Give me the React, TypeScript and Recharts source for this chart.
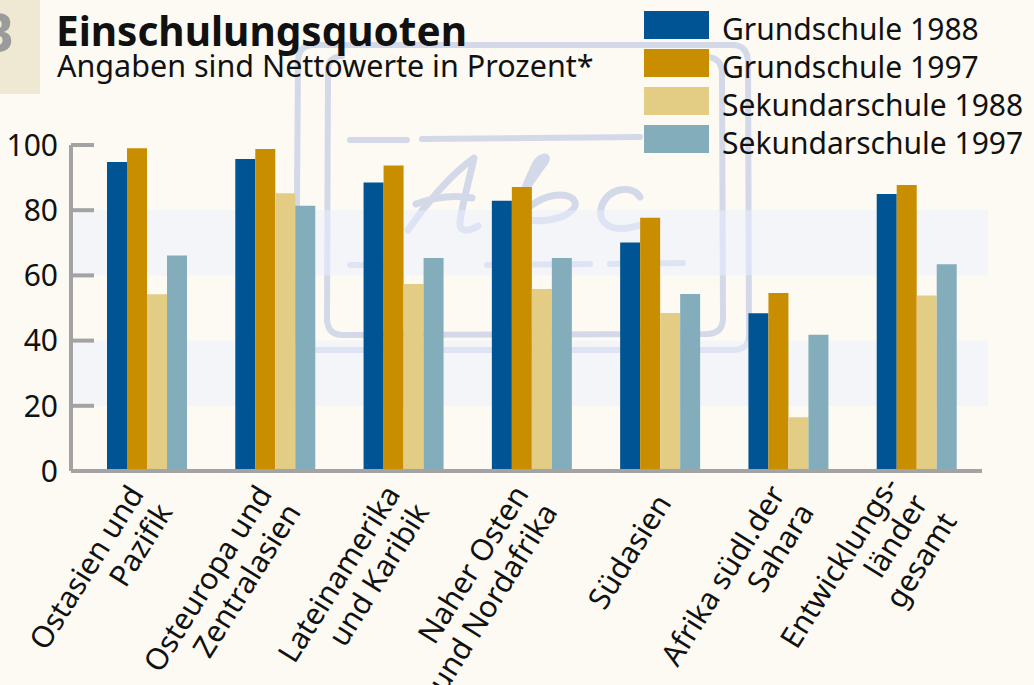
import React from 'react';
import { Bar, BarChart, ReferenceArea, XAxis, YAxis } from 'recharts';

const regions = [
  'Ostasien und\nPazifik',
  'Osteuropa und\nZentralasien',
  'Lateinamerika\nund Karibik',
  'Naher Osten\nund Nordafrika',
  'Südasien',
  'Afrika südl.der\nSahara',
  'Entwicklungs-\nländer\ngesamt',
];
const grund1988 = [94.8, 95.7, 88.5, 82.9, 70.1, 48.4, 85.0];
const grund1997 = [99.0, 98.8, 93.7, 87.1, 77.7, 54.6, 87.7];
const sek1988 = [54.2, 85.2, 57.4, 55.8, 48.5, 16.5, 53.8];
const sek1997 = [66.1, 81.4, 65.3, 65.3, 54.3, 41.8, 63.4];

const seriesKeys = ['g88', 'g97', 's88', 's97'];
const seriesNames = ['Grundschule 1988', 'Grundschule 1997', 'Sekundarschule 1988', 'Sekundarschule 1997'];
const seriesColors = ['#005493', '#c98d00', '#e3cd84', '#84adbb'];
const yTicks = [0, 20, 40, 60, 80, 100];
const bands = [
  [20, 40],
  [60, 80],
];

const data = regions.map((name, i) => ({
  name,
  g88: grund1988[i],
  g97: grund1997[i],
  s88: sek1988[i],
  s97: sek1997[i],
}));

const FONT = '"Noto Sans", sans-serif';
const AXIS = '#a3a3a3';
const BG = '#fcfaf3';
const SKETCH = '#d3d9e8';

const YTick = ({ x, y, payload }: any) => (
  <g>
    <line x1={x} x2={x + 23} y1={y} y2={y} stroke={AXIS} strokeWidth={4} />
    <text x={x - 13} y={y} dy="0.36em" textAnchor="end" fontSize={30} fontFamily={FONT} fill="#111">
      {payload.value}
    </text>
  </g>
);

const XTick = ({ x, y, payload }: any) => {
  const lines = String(payload.value).split('\n');
  const n = lines.length;
  return (
    <g transform={`translate(${x + 12},${y + 32})`}>
      <text transform="rotate(-58)" textAnchor="end" fontSize={30} fontFamily={FONT} fill="#111">
        {lines.map((l, i) => (
          <tspan key={i} x={0} y={(i - (n - 1) / 2) * 34}>
            {l}
          </tspan>
        ))}
      </text>
    </g>
  );
};

// bands run a little past the category range, from the axis to the right edge
const BandShape = (p: any) => (
  <rect x={p.x - 9} y={p.y} width={p.width + 16} height={p.height} fill="#ebf0ff" fillOpacity={0.5} />
);

// the faint hand-drawn slate behind the chart
const Sketch = () => (
  <svg width={1034} height={685} style={{ position: 'absolute', left: 0, top: 0 }}>
    <g fill="none" stroke={SKETCH} strokeWidth={6} strokeLinecap="round" strokeLinejoin="round">
      <path d="M 312 45 Q 298 46 298 62 L 296 334 Q 297 350 313 350 L 734 350 Q 750 349 749 334 L 748 61 Q 747 45 732 45 Z" />
      <path d="M 342 56 Q 327 57 328 72 L 327 320 Q 328 335 343 335 L 708 334 Q 723 333 723 318 L 722 72 Q 721 57 706 57" />
      <path d="M 350 140 L 407 140 M 422 139 L 640 137" />
      <path d="M 350 265 L 397 265 M 487 265 L 590 264 M 610 264 L 683 263" />
      <path strokeWidth={7} d="M 408 230 C 425 205 450 175 474 158 C 468 185 462 205 460 222 C 459 232 468 232 478 226 M 416 204 C 435 197 455 195 472 198" />
      <path strokeWidth={7} d="M 500 228 C 515 205 535 175 545 162 C 550 155 540 155 535 165 C 525 185 518 205 515 225 C 525 205 545 195 560 195 C 575 195 580 205 570 212 C 560 220 540 222 530 220" />
      <path strokeWidth={7} d="M 640 197 C 632 185 610 187 602 205 C 596 222 610 235 640 225" />
    </g>
  </svg>
);

const Header = () => (
  <svg width={1034} height={170} style={{ position: 'absolute', left: 0, top: 0 }}>
    <rect x={0} y={0} width={40} height={94} fill="#efe8d2" />
    <text x={14} y={52} textAnchor="end" fontSize={54} fontWeight={700} fontFamily={FONT} fill="#9b9b9b">
      B
    </text>
    <text x={56} y={46} fontSize={40.5} fontWeight={700} fontFamily={FONT} fill="#111">
      Einschulungsquoten
    </text>
    <text x={57} y={77} fontSize={30.5} fontFamily={FONT} fill="#111">
      Angaben sind Nettowerte in Prozent*
    </text>
    {seriesNames.map((name, i) => (
      <g key={name}>
        <rect x={644} y={11 + i * 38} width={65} height={28} fill={seriesColors[i]} />
        <text x={722} y={40 + i * 38} fontSize={30} fontFamily={FONT} fill="#111">
          {name}
        </text>
      </g>
    ))}
  </svg>
);

export default function App() {
  return (
    <div style={{ position: 'relative', width: 1034, height: 685, background: BG, overflow: 'hidden' }}>
      <style>{'body{margin:0}'}</style>
      <Sketch />
      <div style={{ position: 'absolute', left: 0, top: 0 }}>
        <BarChart
          width={1034}
          height={685}
          data={data}
          margin={{ top: 145, right: 52, bottom: 0, left: 0 }}
          barSize={20}
          barGap={0}
        >
          {bands.map(([a, b]) => (
            <ReferenceArea key={a} y1={a} y2={b} shape={BandShape} />
          ))}
          <XAxis
            dataKey="name"
            interval={0}
            height={214}
            padding={{ left: 12, right: 1 }}
            axisLine={{ stroke: AXIS, strokeWidth: 4 }}
            tickLine={false}
            tickSize={0}
            tickMargin={0}
            tick={<XTick />}
          />
          <YAxis
            width={71}
            domain={[0, 100]}
            ticks={yTicks}
            axisLine={{ stroke: AXIS, strokeWidth: 4 }}
            tickLine={false}
            tickSize={0}
            tickMargin={0}
            tick={<YTick />}
          />
          {seriesKeys.map((k, i) => (
            <Bar key={k} dataKey={k} name={seriesNames[i]} fill={seriesColors[i]} isAnimationActive={false} />
          ))}
        </BarChart>
      </div>
      <Header />
    </div>
  );
}
